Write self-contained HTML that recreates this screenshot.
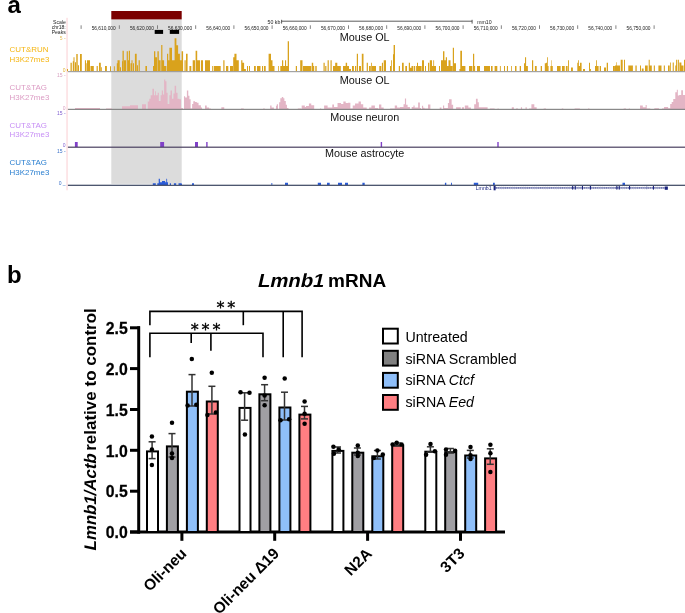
<!DOCTYPE html>
<html><head><meta charset="utf-8"><style>
html,body{margin:0;padding:0;background:#fff;}
svg{display:block;}
text{font-family:'Liberation Sans', Arial, sans-serif;}
</style></head><body>
<svg width="685" height="613" viewBox="0 0 685 613" font-family="'Liberation Sans', Arial, sans-serif">
<rect width="685" height="613" fill="#fff"/>
<text x="7.4" y="13" font-size="24" font-weight="bold">a</text>
<rect x="111.3" y="19.4" width="70.4" height="164.5" fill="#dcdcdc"/>
<rect x="111.3" y="11" width="70.4" height="8.4" fill="#7b0000"/>
<rect x="66.2" y="17.8" width="1.7" height="172.5" fill="#fde3e5"/>
<g font-size="5.1" fill="#222" text-anchor="end">
<text x="65.8" y="24.2">Scale</text><text x="65.8" y="29.2">chr18:</text><text x="65.8" y="33.8">Peaks</text>
</g>
<g stroke="#333" stroke-width="0.8" fill="none"><line x1="281.6" y1="21.2" x2="472.1" y2="21.2"/><line x1="281.6" y1="19.8" x2="281.6" y2="23.6"/><line x1="472.1" y1="19.8" x2="472.1" y2="23.6"/></g>
<text x="280.3" y="24" font-size="5.2" text-anchor="end" fill="#222">50 kb</text>
<text x="477.2" y="24.2" font-size="5.2" fill="#222">mm10</text>
<rect x="80.65" y="25.3" width="0.9" height="3.6" fill="#777"/>
<rect x="118.85" y="25.3" width="0.9" height="3.6" fill="#777"/>
<text x="115.70" y="29.8" font-size="4.8" text-anchor="end" fill="#222">56,610,000</text>
<rect x="157.05" y="25.3" width="0.9" height="3.6" fill="#777"/>
<text x="153.90" y="29.8" font-size="4.8" text-anchor="end" fill="#222">56,620,000</text>
<rect x="195.25" y="25.3" width="0.9" height="3.6" fill="#777"/>
<text x="192.10" y="29.8" font-size="4.8" text-anchor="end" fill="#222">56,630,000</text>
<rect x="233.45" y="25.3" width="0.9" height="3.6" fill="#777"/>
<text x="230.30" y="29.8" font-size="4.8" text-anchor="end" fill="#222">56,640,000</text>
<rect x="271.65" y="25.3" width="0.9" height="3.6" fill="#777"/>
<text x="268.50" y="29.8" font-size="4.8" text-anchor="end" fill="#222">56,650,000</text>
<rect x="309.85" y="25.3" width="0.9" height="3.6" fill="#777"/>
<text x="306.70" y="29.8" font-size="4.8" text-anchor="end" fill="#222">56,660,000</text>
<rect x="348.05" y="25.3" width="0.9" height="3.6" fill="#777"/>
<text x="344.90" y="29.8" font-size="4.8" text-anchor="end" fill="#222">56,670,000</text>
<rect x="386.25" y="25.3" width="0.9" height="3.6" fill="#777"/>
<text x="383.10" y="29.8" font-size="4.8" text-anchor="end" fill="#222">56,680,000</text>
<rect x="424.45" y="25.3" width="0.9" height="3.6" fill="#777"/>
<text x="421.30" y="29.8" font-size="4.8" text-anchor="end" fill="#222">56,690,000</text>
<rect x="462.65" y="25.3" width="0.9" height="3.6" fill="#777"/>
<text x="459.50" y="29.8" font-size="4.8" text-anchor="end" fill="#222">56,700,000</text>
<rect x="500.85" y="25.3" width="0.9" height="3.6" fill="#777"/>
<text x="497.70" y="29.8" font-size="4.8" text-anchor="end" fill="#222">56,710,000</text>
<rect x="539.05" y="25.3" width="0.9" height="3.6" fill="#777"/>
<text x="535.90" y="29.8" font-size="4.8" text-anchor="end" fill="#222">56,720,000</text>
<rect x="577.25" y="25.3" width="0.9" height="3.6" fill="#777"/>
<text x="574.10" y="29.8" font-size="4.8" text-anchor="end" fill="#222">56,730,000</text>
<rect x="615.45" y="25.3" width="0.9" height="3.6" fill="#777"/>
<text x="612.30" y="29.8" font-size="4.8" text-anchor="end" fill="#222">56,740,000</text>
<rect x="653.65" y="25.3" width="0.9" height="3.6" fill="#777"/>
<text x="650.50" y="29.8" font-size="4.8" text-anchor="end" fill="#222">56,750,000</text>
<rect x="154.7" y="29.9" width="8.4" height="4" fill="#000"/>
<rect x="169.8" y="29.9" width="9.3" height="4" fill="#000"/>
<text x="9.6" y="52.0" font-size="7.95" fill="#f5b511">CUT&amp;RUN</text>
<text x="9.6" y="61.5" font-size="7.95" fill="#f5b511">H3K27me3</text>
<text x="9.6" y="90.4" font-size="7.95" fill="#dc9cc4">CUT&amp;TAG</text>
<text x="9.6" y="99.8" font-size="7.95" fill="#dc9cc4">H3K27me3</text>
<text x="9.6" y="127.8" font-size="7.95" fill="#c78ff5">CUT&amp;TAG</text>
<text x="9.6" y="137.2" font-size="7.95" fill="#c78ff5">H3K27me3</text>
<text x="9.6" y="165.4" font-size="7.95" fill="#2a7fd0">CUT&amp;TAG</text>
<text x="9.6" y="174.8" font-size="7.95" fill="#2a7fd0">H3K27me3</text>
<text x="65.6" y="40" font-size="5" text-anchor="end" fill="#e6bd55">5 -</text>
<text x="65.6" y="71.5" font-size="5" text-anchor="end" fill="#e0b030">0</text>
<text x="65.6" y="76.8" font-size="5" text-anchor="end" fill="#d8a0c0">15 -</text>
<text x="65.6" y="109.5" font-size="5" text-anchor="end" fill="#d8a0c0">0</text>
<text x="65.6" y="114.9" font-size="5" text-anchor="end" fill="#8060d0">15 -</text>
<text x="65.6" y="147.4" font-size="5" text-anchor="end" fill="#8060d0">0</text>
<text x="65.6" y="152.6" font-size="5" text-anchor="end" fill="#3a70c8">15 -</text>
<text x="65.6" y="185.2" font-size="5" text-anchor="end" fill="#3a70c8">0 _</text>
<text x="364.7" y="40.8" font-size="10.8" text-anchor="middle" fill="#111">Mouse OL</text>
<text x="364.7" y="83.7" font-size="10.8" text-anchor="middle" fill="#111">Mouse OL</text>
<text x="364.7" y="121.4" font-size="10.8" text-anchor="middle" fill="#111">Mouse neuron</text>
<text x="364.7" y="156.5" font-size="10.8" text-anchor="middle" fill="#111">Mouse astrocyte</text>
<path d="M67.00 71.20V68.90H68.00V71.20ZM70.50 71.20V62.80H71.80V71.20ZM72.80 71.20V61.20H73.50V71.20ZM73.50 71.20V57.20H74.50V71.20ZM75.00 71.20V62.20H76.00V71.20ZM76.30 71.20V53.90H77.70V71.20ZM78.00 71.20V65.20H79.00V71.20ZM80.00 71.20V53.90H81.80V71.20ZM84.90 71.20V60.20H86.00V71.20ZM86.40 71.20V63.20H87.00V71.20ZM87.00 71.20V60.20H90.00V71.20ZM90.50 71.20V65.90H93.80V71.20ZM96.60 71.20V65.90H97.80V71.20ZM99.00 71.20V62.80H100.80V71.20ZM101.00 71.20V67.20H101.80V71.20ZM105.00 71.20V65.90H106.90V71.20ZM110.00 71.20V66.20H111.00V71.20ZM113.90 71.20V66.20H114.80V71.20ZM116.80 71.20V63.20H117.50V71.20ZM117.50 71.20V60.20H119.70V71.20ZM120.00 71.20V67.20H121.00V71.20ZM122.00 71.20V61.20H122.50V71.20ZM122.50 71.20V50.70H123.80V71.20ZM124.00 71.20V60.20H126.00V71.20ZM126.70 71.20V51.20H127.90V71.20ZM128.00 71.20V60.20H128.80V71.20ZM128.80 71.20V50.70H130.00V71.20ZM130.50 71.20V63.20H131.50V71.20ZM131.50 71.20V60.20H132.50V71.20ZM133.00 71.20V63.20H134.00V71.20ZM134.90 71.20V53.70H136.70V71.20ZM137.00 71.20V65.20H138.00V71.20ZM138.60 71.20V60.20H139.80V71.20ZM145.40 71.20V65.90H147.00V71.20ZM153.00 71.20V65.90H154.00V71.20ZM154.00 71.20V51.20H155.30V71.20ZM155.30 71.20V57.20H157.00V71.20ZM157.40 71.20V51.20H158.80V71.20ZM158.80 71.20V60.20H160.60V71.20ZM161.20 71.20V44.90H162.40V71.20ZM162.40 71.20V60.20H164.10V71.20ZM164.10 71.20V65.90H166.40V71.20ZM167.00 71.20V53.70H168.20V71.20ZM168.20 71.20V60.20H169.40V71.20ZM169.40 71.20V47.80H172.00V71.20ZM172.00 71.20V60.20H174.60V71.20ZM174.60 71.20V38.20H176.40V71.20ZM176.40 71.20V45.20H178.10V71.20ZM178.10 71.20V53.70H179.90V71.20ZM179.90 71.20V60.20H181.60V71.20ZM181.60 71.20V51.20H183.10V71.20ZM184.50 71.20V60.20H185.70V71.20ZM186.00 71.20V53.70H187.60V71.20ZM189.40 71.20V65.90H191.30V71.20ZM192.70 71.20V60.20H195.00V71.20ZM195.60 71.20V50.70H197.20V71.20ZM197.20 71.20V60.20H200.00V71.20ZM200.90 71.20V60.20H203.00V71.20ZM205.00 71.20V60.20H210.00V71.20ZM212.00 71.20V65.90H212.80V71.20ZM213.70 71.20V65.90H220.70V71.20ZM223.30 71.20V60.20H224.50V71.20ZM226.00 71.20V65.90H228.30V71.20ZM230.00 71.20V65.90H233.00V71.20ZM233.20 71.20V57.20H234.40V71.20ZM234.40 71.20V53.70H236.50V71.20ZM236.50 71.20V60.20H238.80V71.20ZM241.20 71.20V60.20H242.40V71.20ZM242.40 71.20V62.80H244.10V71.20ZM244.10 71.20V68.90H245.90V71.20ZM247.00 71.20V65.90H248.00V71.20ZM249.00 71.20V65.90H250.00V71.20ZM254.00 71.20V65.90H255.80V71.20ZM257.00 71.20V65.90H260.50V71.20ZM262.00 71.20V65.90H263.10V71.20ZM264.00 71.20V65.90H265.70V71.20ZM268.60 71.20V53.70H271.00V71.20ZM271.00 71.20V60.20H272.50V71.20ZM272.50 71.20V65.90H274.50V71.20ZM278.00 71.20V65.90H278.80V71.20ZM280.30 71.20V65.90H282.00V71.20ZM282.00 71.20V60.20H283.20V71.20ZM283.20 71.20V65.90H285.00V71.20ZM285.00 71.20V60.20H286.10V71.20ZM286.10 71.20V65.90H287.70V71.20ZM287.70 71.20V41.20H289.00V71.20ZM295.80 71.20V65.90H297.00V71.20ZM300.20 71.20V60.20H302.50V71.20ZM303.00 71.20V65.90H306.00V71.20ZM306.00 71.20V65.90H311.30V71.20ZM311.80 71.20V62.80H313.20V71.20ZM313.20 71.20V65.90H314.20V71.20ZM315.30 71.20V65.90H316.70V71.20ZM323.50 71.20V62.80H324.70V71.20ZM325.20 71.20V65.90H326.40V71.20ZM327.60 71.20V60.20H328.80V71.20ZM330.50 71.20V60.20H331.70V71.20ZM333.00 71.20V65.90H335.20V71.20ZM335.20 71.20V62.80H337.30V71.20ZM337.30 71.20V65.90H340.80V71.20ZM343.00 71.20V65.90H345.70V71.20ZM345.70 71.20V62.80H347.10V71.20ZM347.10 71.20V65.90H349.00V71.20ZM349.00 71.20V68.90H351.00V71.20ZM352.00 71.20V65.90H353.90V71.20ZM355.00 71.20V65.90H356.20V71.20ZM356.80 71.20V53.70H358.00V71.20ZM359.00 71.20V65.90H361.00V71.20ZM361.80 71.20V53.70H363.50V71.20ZM366.70 71.20V62.80H367.90V71.20ZM369.00 71.20V65.90H370.80V71.20ZM371.20 71.20V62.80H372.00V71.20ZM372.00 71.20V65.90H376.00V71.20ZM379.30 71.20V65.90H381.30V71.20ZM381.90 71.20V62.80H383.00V71.20ZM383.70 71.20V60.20H386.00V71.20ZM390.00 71.20V65.90H391.00V71.20ZM391.00 71.20V60.20H391.80V71.20ZM393.00 71.20V54.20H393.60V71.20ZM393.60 71.20V44.90H395.00V71.20ZM398.80 71.20V65.90H400.00V71.20ZM402.00 71.20V62.80H403.70V71.20ZM405.30 71.20V65.90H407.00V71.20ZM408.80 71.20V62.80H410.00V71.20ZM410.00 71.20V67.70H411.50V71.20ZM411.50 71.20V65.90H413.40V71.20ZM414.00 71.20V65.90H415.20V71.20ZM416.10 71.20V65.90H417.00V71.20ZM417.00 71.20V62.80H418.00V71.20ZM418.00 71.20V65.90H421.60V71.20ZM422.00 71.20V60.20H424.00V71.20ZM425.00 71.20V65.90H426.00V71.20ZM428.00 71.20V62.80H429.20V71.20ZM429.80 71.20V60.20H432.00V71.20ZM432.00 71.20V65.90H433.30V71.20ZM433.30 71.20V60.20H434.10V71.20ZM434.10 71.20V65.90H436.00V71.20ZM439.00 71.20V65.90H440.00V71.20ZM441.00 71.20V60.20H443.00V71.20ZM443.00 71.20V51.20H444.40V71.20ZM444.40 71.20V60.20H445.80V71.20ZM445.80 71.20V57.20H447.00V71.20ZM447.00 71.20V65.90H448.50V71.20ZM448.50 71.20V60.20H450.50V71.20ZM450.50 71.20V65.90H452.60V71.20ZM452.80 71.20V47.80H454.00V71.20ZM454.00 71.20V63.20H456.00V71.20ZM459.40 71.20V68.90H460.30V71.20ZM460.30 71.20V50.70H462.00V71.20ZM462.00 71.20V65.90H465.40V71.20ZM469.00 71.20V65.90H472.40V71.20ZM473.00 71.20V53.70H474.20V71.20ZM474.20 71.20V65.90H475.10V71.20ZM477.00 71.20V65.90H480.00V71.20ZM484.00 71.20V65.90H490.00V71.20ZM491.00 71.20V65.90H492.60V71.20ZM494.60 71.20V65.90H497.30V71.20ZM499.90 71.20V65.90H500.80V71.20ZM504.00 71.20V65.90H505.00V71.20ZM506.90 71.20V65.90H508.00V71.20ZM511.00 71.20V65.90H511.80V71.20ZM515.00 71.20V65.90H516.50V71.20ZM519.70 71.20V65.90H521.00V71.20ZM524.00 71.20V63.20H525.00V71.20ZM525.00 71.20V57.20H526.10V71.20ZM526.10 71.20V65.90H527.90V71.20ZM532.00 71.20V60.20H533.20V71.20ZM534.90 71.20V65.90H536.70V71.20ZM540.70 71.20V65.90H542.00V71.20ZM544.80 71.20V63.20H546.00V71.20ZM546.00 71.20V62.80H547.00V71.20ZM547.00 71.20V57.20H547.80V71.20ZM547.80 71.20V65.90H548.60V71.20ZM550.40 71.20V65.90H551.30V71.20ZM551.30 71.20V60.20H551.80V71.20ZM551.80 71.20V65.90H552.80V71.20ZM557.00 71.20V65.90H560.60V71.20ZM562.00 71.20V65.90H564.70V71.20ZM565.90 71.20V65.90H567.60V71.20ZM568.00 71.20V60.20H568.90V71.20ZM571.00 71.20V67.50H572.90V71.20ZM577.30 71.20V62.80H578.10V71.20ZM578.10 71.20V60.20H578.90V71.20ZM578.90 71.20V65.90H580.00V71.20ZM580.00 71.20V62.80H581.60V71.20ZM583.00 71.20V68.90H585.00V71.20ZM589.00 71.20V62.80H590.00V71.20ZM590.00 71.20V68.90H590.90V71.20ZM595.00 71.20V65.90H596.20V71.20ZM596.20 71.20V60.20H597.00V71.20ZM597.00 71.20V65.90H598.60V71.20ZM599.70 71.20V65.90H601.00V71.20ZM604.00 71.20V67.50H606.00V71.20ZM606.70 71.20V62.80H608.00V71.20ZM613.00 71.20V65.90H614.90V71.20ZM615.00 71.20V65.60H616.20V71.20ZM616.20 71.20V62.20H616.80V71.20ZM616.80 71.20V65.60H620.00V71.20ZM620.70 71.20V59.70H622.70V71.20ZM624.00 71.20V59.70H625.00V71.20ZM628.30 71.20V65.60H632.90V71.20ZM635.40 71.20V65.60H636.70V71.20ZM640.00 71.20V65.60H641.00V71.20ZM641.80 71.20V68.40H643.60V71.20ZM645.00 71.20V65.60H647.70V71.20ZM648.70 71.20V59.70H649.70V71.20ZM649.70 71.20V65.60H651.80V71.20ZM653.80 71.20V65.60H654.90V71.20ZM658.40 71.20V65.60H661.50V71.20ZM663.80 71.20V65.60H664.90V71.20ZM668.00 71.20V65.60H669.70V71.20ZM670.20 71.20V62.50H671.00V71.20ZM672.70 71.20V62.50H673.80V71.20ZM675.30 71.20V65.60H676.10V71.20ZM676.10 71.20V59.70H677.10V71.20ZM677.80 71.20V59.70H678.90V71.20ZM679.40 71.20V62.50H681.40V71.20ZM681.40 71.20V65.60H683.50V71.20ZM684.00 71.20V59.70H685.00V71.20Z" fill="#d9a21c"/>
<path d="M75.00 109.20V108.00H100.00V109.20ZM106.00 109.20V108.40H112.00V109.20ZM122.00 109.20V106.20H130.00V109.20ZM130.00 109.20V105.20H138.00V109.20ZM142.00 109.20V104.20H146.00V109.20ZM147.75 109.20V101.60H149.27V109.20ZM149.27 109.20V98.70H150.67V109.20ZM150.67 109.20V95.20H152.42V109.20ZM152.42 109.20V88.70H153.94V109.20ZM153.94 109.20V95.20H155.11V109.20ZM155.11 109.20V91.20H155.93V109.20ZM155.93 109.20V95.20H157.68V109.20ZM157.68 109.20V92.80H158.85V109.20ZM158.85 109.20V101.00H160.60V109.20ZM160.60 109.20V95.20H161.77V109.20ZM161.77 109.20V90.50H162.93V109.20ZM162.93 109.20V94.60H164.10V109.20ZM164.10 109.20V79.40H165.27V109.20ZM165.27 109.20V81.20H166.44V109.20ZM166.44 109.20V92.80H167.61V109.20ZM167.61 109.20V103.90H169.36V109.20ZM169.36 109.20V95.20H170.53V109.20ZM170.53 109.20V90.50H171.93V109.20ZM171.93 109.20V98.70H173.45V109.20ZM173.45 109.20V93.40H174.61V109.20ZM174.61 109.20V85.80H176.13V109.20ZM176.13 109.20V92.80H177.53V109.20ZM177.53 109.20V98.70H179.28V109.20ZM179.28 109.20V99.20H181.04V109.20ZM181.04 109.20V108.00H182.79V109.20ZM183.96 109.20V96.30H185.12V109.20ZM185.12 109.20V97.50H186.88V109.20ZM186.88 109.20V90.50H188.28V109.20ZM188.28 109.20V95.70H189.45V109.20ZM189.45 109.20V99.20H190.61V109.20ZM190.61 109.20V108.60H192.13V109.20ZM192.13 109.20V103.90H193.30V109.20ZM193.30 109.20V101.20H195.05V109.20ZM195.05 109.20V101.90H196.80V109.20ZM196.80 109.20V102.80H198.55V109.20ZM198.55 109.20V105.20H200.89V109.20ZM200.89 109.20V107.50H202.06V109.20ZM204.98 109.20V105.50H206.73V109.20ZM206.73 109.20V107.40H209.07V109.20ZM209.07 109.20V108.60H210.82V109.20ZM221.33 109.20V107.20H224.25V109.20ZM240.95 109.20V108.40H243.75V109.20ZM263.14 109.20V108.40H264.77V109.20ZM270.15 109.20V105.50H271.55V109.20ZM271.55 109.20V107.40H273.88V109.20ZM275.99 109.20V105.70H276.80V109.20ZM276.80 109.20V104.30H277.97V109.20ZM279.14 109.20V102.20H280.31V109.20ZM280.31 109.20V98.20H281.82V109.20ZM281.82 109.20V96.90H283.23V109.20ZM283.23 109.20V98.20H284.39V109.20ZM284.39 109.20V101.00H285.80V109.20ZM285.80 109.20V104.80H286.96V109.20ZM286.96 109.20V108.00H288.48V109.20ZM297.82 109.20V108.40H301.33V109.20ZM301.68 109.20V105.50H304.83V109.20ZM304.83 109.20V106.90H306.00V109.20ZM306.00 109.20V105.90H308.92V109.20ZM308.92 109.20V103.40H311.26V109.20ZM311.26 109.20V105.20H314.18V109.20ZM320.01 109.20V108.40H321.18V109.20ZM324.10 109.20V105.50H327.61V109.20ZM327.61 109.20V107.40H332.28V109.20ZM332.28 109.20V104.50H334.03V109.20ZM334.03 109.20V106.90H337.53V109.20ZM337.53 109.20V103.10H341.04V109.20ZM341.04 109.20V103.90H343.37V109.20ZM343.37 109.20V101.60H345.71V109.20ZM345.71 109.20V103.10H348.04V109.20ZM348.04 109.20V102.80H350.38V109.20ZM350.38 109.20V108.60H352.72V109.20ZM352.72 109.20V105.50H355.05V109.20ZM355.05 109.20V103.40H358.55V109.20ZM358.55 109.20V101.60H360.89V109.20ZM360.89 109.20V104.30H363.23V109.20ZM363.23 109.20V107.40H366.73V109.20ZM369.07 109.20V107.40H371.40V109.20ZM371.40 109.20V105.50H374.91V109.20ZM374.91 109.20V108.00H378.41V109.20ZM378.99 109.20V104.50H381.33V109.20ZM381.33 109.20V107.40H383.66V109.20ZM390.09 109.20V108.40H394.76V109.20ZM394.76 109.20V105.50H397.09V109.20ZM397.09 109.20V107.40H400.01V109.20ZM400.01 109.20V106.90H403.52V109.20ZM403.52 109.20V104.30H404.92V109.20ZM404.92 109.20V98.40H406.09V109.20ZM406.09 109.20V104.80H407.61V109.20ZM407.61 109.20V106.90H409.94V109.20ZM411.69 109.20V107.10H413.45V109.20ZM413.45 109.20V105.50H414.61V109.20ZM414.61 109.20V107.40H418.12V109.20ZM418.12 109.20V102.40H419.87V109.20ZM419.87 109.20V108.00H421.04V109.20ZM421.97 109.20V105.70H423.14V109.20ZM423.14 109.20V107.80H424.54V109.20ZM424.54 109.20V108.40H428.04V109.20ZM428.04 109.20V104.50H430.38V109.20ZM439.72 109.20V107.40H441.47V109.20ZM442.99 109.20V105.50H444.16V109.20ZM444.16 109.20V108.00H447.90V109.20ZM447.90 109.20V103.10H449.07V109.20ZM449.07 109.20V99.20H451.64V109.20ZM451.64 109.20V104.80H453.15V109.20ZM456.07 109.20V107.20H460.74V109.20ZM461.91 109.20V107.20H464.01V109.20ZM464.83 109.20V105.50H466.00V109.20ZM466.00 109.20V105.50H468.34V109.20ZM468.34 109.20V107.40H470.91V109.20ZM474.18 109.20V104.30H475.93V109.20ZM475.93 109.20V98.70H477.68V109.20ZM477.68 109.20V102.20H478.85V109.20ZM478.85 109.20V107.20H487.61V109.20ZM489.94 109.20V108.40H494.61V109.20ZM497.53 109.20V108.40H498.70V109.20ZM511.78 109.20V107.20H513.88V109.20ZM515.99 109.20V108.40H517.97V109.20ZM520.89 109.20V107.20H522.06V109.20ZM525.56 109.20V107.20H526.73V109.20ZM529.07 109.20V108.40H531.40V109.20ZM531.40 109.20V104.30H534.32V109.20ZM534.32 109.20V107.20H536.66V109.20ZM543.66 109.20V108.40H546.00V109.20ZM561.77 109.20V108.40H563.28V109.20ZM574.61 109.20V108.40H579.87V109.20ZM588.04 109.20V108.40H589.45V109.20ZM623.66 109.20V108.40H626.00V109.20ZM623.99 109.20V108.40H625.73V109.20ZM628.80 109.20V108.40H629.82V109.20ZM640.04 109.20V105.40H642.79V109.20ZM642.79 109.20V107.20H645.66V109.20ZM645.66 109.20V105.10H646.68V109.20ZM646.68 109.20V108.40H650.25V109.20ZM654.34 109.20V108.20H658.94V109.20ZM662.01 109.20V108.60H664.05V109.20ZM664.05 109.20V107.00H668.14V109.20ZM668.14 109.20V108.20H670.18V109.20ZM670.18 109.20V104.10H671.71V109.20ZM671.71 109.20V102.00H673.25V109.20ZM673.25 109.20V99.00H675.29V109.20ZM675.29 109.20V92.20H676.82V109.20ZM676.82 109.20V89.80H677.84V109.20ZM677.84 109.20V95.40H679.17V109.20ZM679.17 109.20V94.90H681.22V109.20ZM681.22 109.20V90.30H682.95V109.20ZM682.95 109.20V94.90H685.00V109.20Z" fill="#e3b5c5"/>
<path d="M74.90 147.00V142.00H77.70V147.00ZM160.20 147.00V142.00H164.10V147.00ZM195.00 147.00V142.00H198.00V147.00ZM206.20 147.00V142.00H207.60V147.00ZM380.70 147.00V142.00H382.10V147.00ZM497.30 147.00V142.00H498.70V147.00Z" fill="#8040c8"/>
<path d="M152.80 185.00V183.20H155.80V185.00ZM157.30 185.00V183.20H158.70V185.00ZM158.70 185.00V178.80H159.90V185.00ZM159.90 185.00V182.30H162.00V185.00ZM162.00 185.00V181.10H165.10V185.00ZM165.10 185.00V182.30H166.30V185.00ZM166.30 185.00V178.80H167.10V185.00ZM167.10 185.00V182.30H168.00V185.00ZM169.80 185.00V183.20H171.00V185.00ZM173.90 185.00V183.20H176.20V185.00ZM178.50 185.00V183.20H181.10V185.00ZM192.00 185.00V183.20H194.00V185.00ZM180.00 185.00V183.50H182.00V185.00ZM271.40 185.00V183.00H272.30V185.00ZM285.00 185.00V182.70H288.00V185.00ZM317.80 185.00V182.70H321.00V185.00ZM327.00 185.00V182.70H329.70V185.00ZM338.00 185.00V182.70H342.00V185.00ZM345.00 185.00V182.70H348.00V185.00ZM362.40 185.00V182.70H364.70V185.00ZM444.90 185.00V182.70H446.30V185.00ZM451.00 185.00V182.70H451.90V185.00ZM473.80 185.00V182.70H478.20V185.00ZM493.00 185.00V182.70H494.80V185.00ZM622.50 185.00V182.80H625.00V185.00Z" fill="#2a5bd7"/>
<rect x="67.9" y="71.1" width="617.1" height="1.1" fill="#9a9a9a"/>
<rect x="67.9" y="108.8" width="617.1" height="1.1" fill="#7d7d7d"/>
<rect x="67.9" y="146.6" width="617.1" height="1.2" fill="#4a4060"/>
<rect x="67.9" y="184.7" width="617.1" height="1.2" fill="#3a4560"/>
<text x="491.6" y="190.1" font-size="5.2" text-anchor="end" fill="#1a237e">Lmnb1</text>
<rect x="494.5" y="187.6" width="173.5" height="0.7" fill="#1a237e"/>
<rect x="493.6" y="185.9" width="2" height="4.4" fill="#1a237e"/>
<rect x="664.8" y="186.5" width="3" height="3.3" fill="#1a237e"/>
<rect x="572.1" y="186.0" width="1.1" height="3.6" fill="#1a237e"/>
<rect x="574.7" y="186.0" width="1.1" height="3.6" fill="#1a237e"/>
<rect x="581.9" y="186.0" width="1.1" height="3.6" fill="#1a237e"/>
<rect x="589.9" y="186.0" width="1.1" height="3.6" fill="#1a237e"/>
<rect x="616.3" y="186.0" width="1.1" height="3.6" fill="#1a237e"/>
<rect x="618.7" y="186.0" width="1.1" height="3.6" fill="#1a237e"/>
<rect x="629.0" y="186.0" width="1.1" height="3.6" fill="#1a237e"/>
<rect x="652.9" y="186.0" width="1.1" height="3.6" fill="#1a237e"/>
<rect x="646.3" y="186.4" width="1" height="2.8" fill="#8a90c0"/>
<path d="M497.0 187.1l-0.9 0.85l0.9 0.85M499.2 187.1l-0.9 0.85l0.9 0.85M501.4 187.1l-0.9 0.85l0.9 0.85M503.6 187.1l-0.9 0.85l0.9 0.85M505.8 187.1l-0.9 0.85l0.9 0.85M508.0 187.1l-0.9 0.85l0.9 0.85M510.2 187.1l-0.9 0.85l0.9 0.85M512.4 187.1l-0.9 0.85l0.9 0.85M514.6 187.1l-0.9 0.85l0.9 0.85M516.8 187.1l-0.9 0.85l0.9 0.85M519.0 187.1l-0.9 0.85l0.9 0.85M521.2 187.1l-0.9 0.85l0.9 0.85M523.4 187.1l-0.9 0.85l0.9 0.85M525.6 187.1l-0.9 0.85l0.9 0.85M527.8 187.1l-0.9 0.85l0.9 0.85M530.0 187.1l-0.9 0.85l0.9 0.85M532.2 187.1l-0.9 0.85l0.9 0.85M534.4 187.1l-0.9 0.85l0.9 0.85M536.6 187.1l-0.9 0.85l0.9 0.85M538.8 187.1l-0.9 0.85l0.9 0.85M541.0 187.1l-0.9 0.85l0.9 0.85M543.2 187.1l-0.9 0.85l0.9 0.85M545.4 187.1l-0.9 0.85l0.9 0.85M547.6 187.1l-0.9 0.85l0.9 0.85M549.8 187.1l-0.9 0.85l0.9 0.85M552.0 187.1l-0.9 0.85l0.9 0.85M554.2 187.1l-0.9 0.85l0.9 0.85M556.4 187.1l-0.9 0.85l0.9 0.85M558.6 187.1l-0.9 0.85l0.9 0.85M560.8 187.1l-0.9 0.85l0.9 0.85M563.0 187.1l-0.9 0.85l0.9 0.85M565.2 187.1l-0.9 0.85l0.9 0.85M567.4 187.1l-0.9 0.85l0.9 0.85M569.6 187.1l-0.9 0.85l0.9 0.85M571.8 187.1l-0.9 0.85l0.9 0.85M574.0 187.1l-0.9 0.85l0.9 0.85M576.2 187.1l-0.9 0.85l0.9 0.85M578.4 187.1l-0.9 0.85l0.9 0.85M580.6 187.1l-0.9 0.85l0.9 0.85M582.8 187.1l-0.9 0.85l0.9 0.85M585.0 187.1l-0.9 0.85l0.9 0.85M587.2 187.1l-0.9 0.85l0.9 0.85M589.4 187.1l-0.9 0.85l0.9 0.85M591.6 187.1l-0.9 0.85l0.9 0.85M593.8 187.1l-0.9 0.85l0.9 0.85M596.0 187.1l-0.9 0.85l0.9 0.85M598.2 187.1l-0.9 0.85l0.9 0.85M600.4 187.1l-0.9 0.85l0.9 0.85M602.6 187.1l-0.9 0.85l0.9 0.85M604.8 187.1l-0.9 0.85l0.9 0.85M607.0 187.1l-0.9 0.85l0.9 0.85M609.2 187.1l-0.9 0.85l0.9 0.85M611.4 187.1l-0.9 0.85l0.9 0.85M613.6 187.1l-0.9 0.85l0.9 0.85M615.8 187.1l-0.9 0.85l0.9 0.85M618.0 187.1l-0.9 0.85l0.9 0.85M620.2 187.1l-0.9 0.85l0.9 0.85M622.4 187.1l-0.9 0.85l0.9 0.85M624.6 187.1l-0.9 0.85l0.9 0.85M626.8 187.1l-0.9 0.85l0.9 0.85M629.0 187.1l-0.9 0.85l0.9 0.85M631.2 187.1l-0.9 0.85l0.9 0.85M633.4 187.1l-0.9 0.85l0.9 0.85M635.6 187.1l-0.9 0.85l0.9 0.85M637.8 187.1l-0.9 0.85l0.9 0.85M640.0 187.1l-0.9 0.85l0.9 0.85M642.2 187.1l-0.9 0.85l0.9 0.85M644.4 187.1l-0.9 0.85l0.9 0.85M646.6 187.1l-0.9 0.85l0.9 0.85M648.8 187.1l-0.9 0.85l0.9 0.85M651.0 187.1l-0.9 0.85l0.9 0.85M653.2 187.1l-0.9 0.85l0.9 0.85M655.4 187.1l-0.9 0.85l0.9 0.85M657.6 187.1l-0.9 0.85l0.9 0.85M659.8 187.1l-0.9 0.85l0.9 0.85M662.0 187.1l-0.9 0.85l0.9 0.85M664.2 187.1l-0.9 0.85l0.9 0.85M666.4 187.1l-0.9 0.85l0.9 0.85" stroke="#1a237e" stroke-width="0.35" fill="none"/>
<text x="7" y="283.2" font-size="24" font-weight="bold">b</text>
<text transform="translate(256.9,286.8) scale(1.067,1) skewX(-12)" font-size="19" font-weight="bold">Lmnb1</text>
<text x="328.1" y="286.8" font-size="19" font-weight="bold">mRNA</text>
<g stroke="#000" stroke-width="3" fill="none">
<line x1="138.7" y1="326.3" x2="138.7" y2="533.5"/>
<line x1="130" y1="327.8" x2="140" y2="327.8"/>
<line x1="130" y1="368.6" x2="140" y2="368.6"/>
<line x1="130" y1="409.5" x2="140" y2="409.5"/>
<line x1="130" y1="450.3" x2="140" y2="450.3"/>
<line x1="130" y1="491.2" x2="140" y2="491.2"/>
<line x1="130" y1="532.0" x2="140" y2="532.0"/>
<line x1="130" y1="532" x2="505" y2="532"/>
<line x1="181.9" y1="532" x2="181.9" y2="540.8"/>
<line x1="274.7" y1="532" x2="274.7" y2="540.8"/>
<line x1="367.6" y1="532" x2="367.6" y2="540.8"/>
<line x1="460.5" y1="532" x2="460.5" y2="540.8"/>
</g>
<text transform="translate(127.8,334.0) scale(1,1.1)" font-size="15.8" font-weight="bold" stroke="#000" stroke-width="0.25" text-anchor="end">2.5</text>
<text transform="translate(127.8,374.8) scale(1,1.1)" font-size="15.8" font-weight="bold" stroke="#000" stroke-width="0.25" text-anchor="end">2.0</text>
<text transform="translate(127.8,415.7) scale(1,1.1)" font-size="15.8" font-weight="bold" stroke="#000" stroke-width="0.25" text-anchor="end">1.5</text>
<text transform="translate(127.8,456.5) scale(1,1.1)" font-size="15.8" font-weight="bold" stroke="#000" stroke-width="0.25" text-anchor="end">1.0</text>
<text transform="translate(127.8,497.4) scale(1,1.1)" font-size="15.8" font-weight="bold" stroke="#000" stroke-width="0.25" text-anchor="end">0.5</text>
<text transform="translate(127.8,538.2) scale(1,1.1)" font-size="15.8" font-weight="bold" stroke="#000" stroke-width="0.25" text-anchor="end">0.0</text>
<text transform="translate(96.2,551.2) rotate(-90) skewX(-12)" font-size="16.8" font-weight="bold">Lmnb1/Actb</text>
<text transform="translate(96.2,450.8) rotate(-90)" font-size="17" font-weight="bold">relative to control</text>
<rect x="147.0" y="451.4" width="11.0" height="80.6" fill="#ffffff" stroke="#000" stroke-width="2"/>
<rect x="166.9" y="446.4" width="11.0" height="85.6" fill="#a09fa3" stroke="#000" stroke-width="2"/>
<rect x="186.9" y="391.7" width="11.0" height="140.3" fill="#8fbff9" stroke="#000" stroke-width="2"/>
<rect x="206.8" y="401.5" width="11.0" height="130.5" fill="#ff7e82" stroke="#000" stroke-width="2"/>
<rect x="239.5" y="407.9" width="11.0" height="124.1" fill="#ffffff" stroke="#000" stroke-width="2"/>
<rect x="259.4" y="394.3" width="11.0" height="137.7" fill="#a09fa3" stroke="#000" stroke-width="2"/>
<rect x="279.4" y="407.5" width="11.0" height="124.5" fill="#8fbff9" stroke="#000" stroke-width="2"/>
<rect x="299.4" y="414.6" width="11.0" height="117.4" fill="#ff7e82" stroke="#000" stroke-width="2"/>
<rect x="332.4" y="450.9" width="11.0" height="81.1" fill="#ffffff" stroke="#000" stroke-width="2"/>
<rect x="352.3" y="452.7" width="11.0" height="79.3" fill="#a09fa3" stroke="#000" stroke-width="2"/>
<rect x="372.3" y="456.3" width="11.0" height="75.7" fill="#8fbff9" stroke="#000" stroke-width="2"/>
<rect x="392.2" y="445.4" width="11.0" height="86.6" fill="#ff7e82" stroke="#000" stroke-width="2"/>
<rect x="425.3" y="451.7" width="11.0" height="80.3" fill="#ffffff" stroke="#000" stroke-width="2"/>
<rect x="445.2" y="452.2" width="11.0" height="79.8" fill="#a09fa3" stroke="#000" stroke-width="2"/>
<rect x="465.2" y="455.5" width="11.0" height="76.5" fill="#8fbff9" stroke="#000" stroke-width="2"/>
<rect x="485.1" y="458.4" width="11.0" height="73.6" fill="#ff7e82" stroke="#000" stroke-width="2"/>
<g stroke="#333" stroke-width="1.5"><line x1="152.1" y1="441.8" x2="152.1" y2="458.6"/><line x1="148.6" y1="441.8" x2="155.6" y2="441.8"/><line x1="148.6" y1="458.6" x2="155.6" y2="458.6"/></g>
<circle cx="151.9" cy="436.4" r="2.25" fill="#000"/>
<circle cx="151.9" cy="449.4" r="2.25" fill="#000"/>
<circle cx="151.9" cy="465.1" r="2.25" fill="#000"/>
<g stroke="#333" stroke-width="1.5"><line x1="172.0" y1="433.6" x2="172.0" y2="457"/><line x1="168.5" y1="433.6" x2="175.5" y2="433.6"/><line x1="168.5" y1="457" x2="175.5" y2="457"/></g>
<circle cx="172" cy="422.7" r="2.25" fill="#000"/>
<circle cx="172" cy="453.5" r="2.25" fill="#000"/>
<circle cx="172" cy="458.1" r="2.25" fill="#000"/>
<g stroke="#333" stroke-width="1.5"><line x1="192.0" y1="374.6" x2="192.0" y2="406"/><line x1="188.5" y1="374.6" x2="195.5" y2="374.6"/><line x1="188.5" y1="406" x2="195.5" y2="406"/></g>
<circle cx="191.8" cy="359.1" r="2.25" fill="#000"/>
<circle cx="187.6" cy="405.4" r="2.25" fill="#000"/>
<circle cx="196.3" cy="404.7" r="2.25" fill="#000"/>
<g stroke="#333" stroke-width="1.5"><line x1="211.9" y1="386.3" x2="211.9" y2="414"/><line x1="208.4" y1="386.3" x2="215.4" y2="386.3"/><line x1="208.4" y1="414" x2="215.4" y2="414"/></g>
<circle cx="211.8" cy="372.8" r="2.25" fill="#000"/>
<circle cx="207.4" cy="414.9" r="2.25" fill="#000"/>
<circle cx="215.9" cy="412.4" r="2.25" fill="#000"/>
<g stroke="#333" stroke-width="1.5"><line x1="244.6" y1="392.8" x2="244.6" y2="420.2"/><line x1="241.1" y1="392.8" x2="248.1" y2="392.8"/><line x1="241.1" y1="420.2" x2="248.1" y2="420.2"/></g>
<circle cx="240.5" cy="392.3" r="2.25" fill="#000"/>
<circle cx="249.5" cy="392.8" r="2.25" fill="#000"/>
<circle cx="244.9" cy="434.4" r="2.25" fill="#000"/>
<g stroke="#333" stroke-width="1.5"><line x1="264.6" y1="384.7" x2="264.6" y2="400.7"/><line x1="261.1" y1="384.7" x2="268.1" y2="384.7"/><line x1="261.1" y1="400.7" x2="268.1" y2="400.7"/></g>
<circle cx="264.6" cy="377.8" r="2.25" fill="#000"/>
<circle cx="264.6" cy="395.6" r="2.25" fill="#000"/>
<circle cx="264.6" cy="405.2" r="2.25" fill="#000"/>
<g stroke="#333" stroke-width="1.5"><line x1="284.5" y1="392.2" x2="284.5" y2="420"/><line x1="281.0" y1="392.2" x2="288.0" y2="392.2"/><line x1="281.0" y1="420" x2="288.0" y2="420"/></g>
<circle cx="284.7" cy="378.5" r="2.25" fill="#000"/>
<circle cx="280.5" cy="420.2" r="2.25" fill="#000"/>
<circle cx="289.1" cy="419.3" r="2.25" fill="#000"/>
<g stroke="#333" stroke-width="1.5"><line x1="304.5" y1="406.4" x2="304.5" y2="418.9"/><line x1="301.0" y1="406.4" x2="308.0" y2="406.4"/><line x1="301.0" y1="418.9" x2="308.0" y2="418.9"/></g>
<circle cx="304.6" cy="401.5" r="2.25" fill="#000"/>
<circle cx="304.6" cy="413.7" r="2.25" fill="#000"/>
<circle cx="304.6" cy="423.8" r="2.25" fill="#000"/>
<g stroke="#333" stroke-width="1.5"><line x1="337.5" y1="447" x2="337.5" y2="453"/><line x1="334.0" y1="447" x2="341.0" y2="447"/><line x1="334.0" y1="453" x2="341.0" y2="453"/></g>
<circle cx="333.4" cy="446.8" r="2.25" fill="#000"/>
<circle cx="338.8" cy="449.6" r="2.25" fill="#000"/>
<circle cx="333.9" cy="453.7" r="2.25" fill="#000"/>
<g stroke="#333" stroke-width="1.5"><line x1="357.4" y1="448" x2="357.4" y2="455"/><line x1="353.9" y1="448" x2="360.9" y2="448"/><line x1="353.9" y1="455" x2="360.9" y2="455"/></g>
<circle cx="357.8" cy="445.5" r="2.25" fill="#000"/>
<circle cx="357.8" cy="452.8" r="2.25" fill="#000"/>
<circle cx="357.8" cy="456.1" r="2.25" fill="#000"/>
<g stroke="#333" stroke-width="1.5"><line x1="377.4" y1="450.5" x2="377.4" y2="459"/><line x1="373.9" y1="450.5" x2="380.9" y2="450.5"/><line x1="373.9" y1="459" x2="380.9" y2="459"/></g>
<circle cx="377.4" cy="450.4" r="2.25" fill="#000"/>
<circle cx="373.8" cy="458" r="2.25" fill="#000"/>
<circle cx="382.8" cy="454.5" r="2.25" fill="#000"/>
<g stroke="#333" stroke-width="1.5"><line x1="397.4" y1="443" x2="397.4" y2="446"/><line x1="393.9" y1="443" x2="400.9" y2="443"/><line x1="393.9" y1="446" x2="400.9" y2="446"/></g>
<circle cx="396.7" cy="442.7" r="2.25" fill="#000"/>
<circle cx="392.6" cy="444.4" r="2.25" fill="#000"/>
<circle cx="401.6" cy="444.4" r="2.25" fill="#000"/>
<g stroke="#333" stroke-width="1.5"><line x1="430.4" y1="446.8" x2="430.4" y2="452"/><line x1="426.9" y1="446.8" x2="433.9" y2="446.8"/><line x1="426.9" y1="452" x2="433.9" y2="452"/></g>
<circle cx="430.5" cy="443.9" r="2.25" fill="#000"/>
<circle cx="426.1" cy="454.8" r="2.25" fill="#000"/>
<circle cx="434.9" cy="451.2" r="2.25" fill="#000"/>
<g stroke="#333" stroke-width="1.5"><line x1="450.4" y1="448.5" x2="450.4" y2="453"/><line x1="446.9" y1="448.5" x2="453.9" y2="448.5"/><line x1="446.9" y1="453" x2="453.9" y2="453"/></g>
<circle cx="446" cy="449.6" r="2.25" fill="#000"/>
<circle cx="455.1" cy="450.7" r="2.25" fill="#000"/>
<circle cx="446" cy="454.8" r="2.25" fill="#000"/>
<g stroke="#333" stroke-width="1.5"><line x1="470.3" y1="450.4" x2="470.3" y2="458"/><line x1="466.8" y1="450.4" x2="473.8" y2="450.4"/><line x1="466.8" y1="458" x2="473.8" y2="458"/></g>
<circle cx="470.5" cy="447.1" r="2.25" fill="#000"/>
<circle cx="470.5" cy="455.3" r="2.25" fill="#000"/>
<circle cx="470.5" cy="459" r="2.25" fill="#000"/>
<g stroke="#333" stroke-width="1.5"><line x1="490.2" y1="448.8" x2="490.2" y2="464.3"/><line x1="486.8" y1="448.8" x2="493.8" y2="448.8"/><line x1="486.8" y1="464.3" x2="493.8" y2="464.3"/></g>
<circle cx="490.4" cy="444.7" r="2.25" fill="#000"/>
<circle cx="490.4" cy="453.3" r="2.25" fill="#000"/>
<circle cx="490.4" cy="472.1" r="2.25" fill="#000"/>
<g stroke="#000" stroke-width="1.6" fill="none">
<polyline points="149.9,325.2 149.9,311.4 302.1,311.4 302.1,357.3"/>
<line x1="243.3" y1="311.4" x2="243.3" y2="325.2"/>
<line x1="283.2" y1="311.4" x2="283.2" y2="357.3"/>
<polyline points="149.9,357.3 149.9,333.2 263,333.2 263,357.3"/>
<line x1="191.2" y1="333.2" x2="191.2" y2="343.1"/>
<line x1="210.9" y1="333.2" x2="210.9" y2="350.7"/>
</g>
<text x="216.6" y="313.3" font-size="16" stroke="#000" stroke-width="0.35" style="font-family:DejaVu Sans,sans-serif" letter-spacing="2.65">**</text>
<text x="190.8" y="335.0" font-size="16" stroke="#000" stroke-width="0.35" style="font-family:DejaVu Sans,sans-serif" letter-spacing="2.8">***</text>
<rect x="383" y="328.7" width="14.8" height="14.8" fill="#ffffff" stroke="#000" stroke-width="2"/>
<text x="405.4" y="342.3" font-size="14.2">Untreated</text>
<rect x="383" y="350.8" width="14.8" height="14.8" fill="#808080" stroke="#000" stroke-width="2"/>
<text x="405.4" y="363.7" font-size="14.2">siRNA Scrambled</text>
<rect x="383" y="372.9" width="14.8" height="14.8" fill="#8fbff9" stroke="#000" stroke-width="2"/>
<text x="405.4" y="385.1" font-size="14.2">siRNA <tspan font-style="italic">Ctcf</tspan></text>
<rect x="383" y="395.0" width="14.8" height="14.8" fill="#ff7e82" stroke="#000" stroke-width="2"/>
<text x="405.4" y="406.5" font-size="14.2">siRNA <tspan font-style="italic">Eed</tspan></text>
<text transform="translate(187.5,554.5) rotate(-45)" font-size="15.5" font-weight="bold" text-anchor="end">Oli-neu</text>
<text transform="translate(280,554.5) rotate(-45)" font-size="15.5" font-weight="bold" text-anchor="end">Oli-neu Δ19</text>
<text transform="translate(372.8,554.5) rotate(-45)" font-size="15.5" font-weight="bold" text-anchor="end">N2A</text>
<text transform="translate(465.5,554.5) rotate(-45)" font-size="15.5" font-weight="bold" text-anchor="end">3T3</text>
</svg>
</body></html>
